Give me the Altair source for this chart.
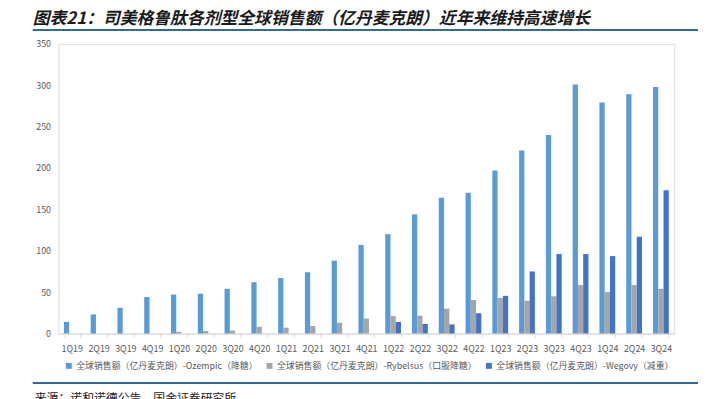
import altair as alt
import pandas as pd

quarters = ["1Q19", "2Q19", "3Q19", "4Q19", "1Q20", "2Q20", "3Q20", "4Q20",
            "1Q21", "2Q21", "3Q21", "4Q21", "1Q22", "2Q22", "3Q22", "4Q22",
            "1Q23", "2Q23", "3Q23", "4Q23", "1Q24", "2Q24", "3Q24"]
ozempic = [14, 23, 31, 44, 47, 48, 54, 62, 67, 74, 88, 107, 120, 144, 164, 170,
           197, 221, 240, 301, 279, 289, 298]
rybelsus = [None, None, None, None, 2, 3, 3.5, 8, 7, 9, 13, 18, 21, 21.5, 30, 40.5,
            43, 39.5, 45, 58.5, 50, 58.5, 54]
wegovy = [None, None, None, None, None, None, None, None, None, None, None, None,
          14, 11.5, 11, 24.5, 45.5, 75, 96, 96, 93.5, 117, 173]

series_names = ["全球销售额（亿丹麦克朗）-Ozempic（降糖）",
                "全球销售额（亿丹麦克朗）-Rybelsus（口服降糖）",
                "全球销售额（亿丹麦克朗）-Wegovy（减重）"]
colors = ["#5B9BD5", "#A5A5A5", "#4472C4"]
y_ticks = [0, 50, 100, 150, 200, 250, 300, 350]
title_text = "图表21：司美格鲁肽各剂型全球销售额（亿丹麦克朗）近年来维持高速增长"
source_text = "来源：诺和诺德公告，国金证券研究所"

rows = []
for name, vals in zip(series_names, [ozempic, rybelsus, wegovy]):
    for q, v in zip(quarters, vals):
        if v is not None:
            rows.append({"季度": q, "系列": name, "值": v})
df = pd.DataFrame(rows)

FONT = "Noto Sans CJK SC"

bars = alt.Chart(df).mark_bar().encode(
    x=alt.X("季度:N", sort=quarters, title=None,
            scale=alt.Scale(paddingInner=0.41, paddingOuter=0.205),
            axis=alt.Axis(labelAngle=0, labelColor="#595959", labelFontSize=9,
                          labelFont=FONT, domainColor="#D9D9D9", tickColor="#D9D9D9",
                          tickBand="extent", tickSize=4, labelPadding=7)),
    xOffset=alt.XOffset("系列:N", sort=series_names,
                        scale=alt.Scale(domain=series_names, paddingInner=0, paddingOuter=0)),
    y=alt.Y("值:Q", title=None, scale=alt.Scale(domain=[0, 350]),
            axis=alt.Axis(values=y_ticks, grid=False, domain=False, ticks=False,
                          labelColor="#595959", labelFontSize=9, labelFont=FONT,
                          labelPadding=8)),
    color=alt.Color("系列:N", sort=series_names,
                    scale=alt.Scale(domain=series_names, range=colors),
                    legend=alt.Legend(title=None, orient="none", direction="horizontal",
                                      legendX=6, legendY=321, symbolType="square",
                                      symbolSize=36, symbolStrokeWidth=0,
                                      labelFont=FONT, labelFontSize=9,
                                      labelColor="#595959", labelLimit=400,
                                      columnPadding=7, labelOffset=3, padding=0)),
)

one = pd.DataFrame({"k": [0]})
top_rule = alt.Chart(one).mark_rule(color="#2E6C9A", strokeWidth=2).encode(
    x=alt.value(-26), x2=alt.value(647), y=alt.value(-14))
bottom_rule = alt.Chart(one).mark_rule(color="#2E6C9A", strokeWidth=2).encode(
    x=alt.value(-26), x2=alt.value(647), y=alt.value(343))
source = alt.Chart(one).mark_text(align="left", baseline="top", font=FONT,
                                  fontSize=12, color="#222222").encode(
    x=alt.value(-24), y=alt.value(353), text=alt.value(source_text))

chart = alt.layer(bars, top_rule, bottom_rule, source).properties(
    width=623, height=293,
    autosize=alt.AutoSizeParams(type="none"),
    padding={"left": 51, "top": 34, "right": 24, "bottom": 64},
    title=alt.TitleParams(title_text, anchor="start", frame="group", dx=-26,
                          offset=1, font=FONT, fontSize=17, fontStyle="italic",
                          fontWeight="bold", color="#1A1A1A"),
).configure_view(stroke=None).configure(background="white")

chart.save("out.html", embed_options={"renderer": "svg", "actions": False})
